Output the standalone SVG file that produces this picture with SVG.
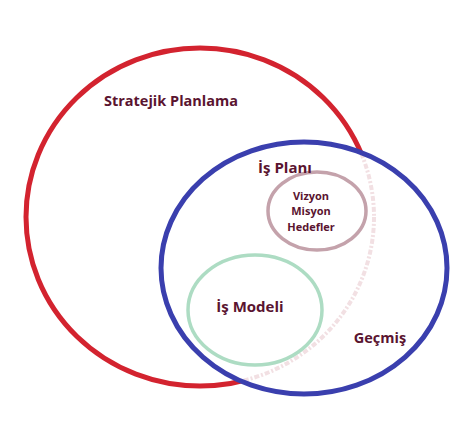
<svg xmlns="http://www.w3.org/2000/svg" width="474" height="428" viewBox="0 0 474 428">
<style>
.lbl{font-family:"Open Sans","Liberation Sans",sans-serif;font-weight:bold;fill:#5a1430;text-anchor:middle}
</style>
<defs>
<clipPath id="blueIn"><ellipse cx="304" cy="268" rx="143" ry="126"/></clipPath>
</defs>
<rect width="474" height="428" fill="#ffffff"/>
<g id="stratejik">
<ellipse cx="200" cy="217" rx="174" ry="169" fill="none" stroke="#d3232f" stroke-width="5"/>
</g>
<g id="is-plani">
<ellipse cx="304" cy="268" rx="143" ry="126" fill="#ffffff"/>
<ellipse cx="200" cy="217" rx="174" ry="169" fill="none" stroke="#f2e0e3" stroke-width="4" stroke-dasharray="5 2 2 2" clip-path="url(#blueIn)"/>
<ellipse cx="304" cy="268" rx="143" ry="126" fill="none" stroke="#3a3fae" stroke-width="5"/>
</g>
<g id="vizyon">
<ellipse cx="317" cy="211" rx="49" ry="39" fill="none" stroke="#c4a2ab" stroke-width="3.5"/>
<text class="lbl" x="311" y="200" font-size="11">Vizyon</text>
<text class="lbl" x="311" y="215" font-size="11">Misyon</text>
<text class="lbl" x="311" y="231" font-size="11">Hedefler</text>
</g>
<g id="is-modeli">
<ellipse cx="255" cy="310" rx="67" ry="55" fill="none" stroke="#addcc3" stroke-width="3.5"/>
<text class="lbl" x="250" y="312" font-size="15">İş Modeli</text>
</g>
<text class="lbl" x="171" y="106" font-size="14.5">Stratejik Planlama</text>
<text class="lbl" x="285" y="173" font-size="15">İş Planı</text>
<text class="lbl" x="380" y="343" font-size="14.5">Geçmiş</text>
</svg>
